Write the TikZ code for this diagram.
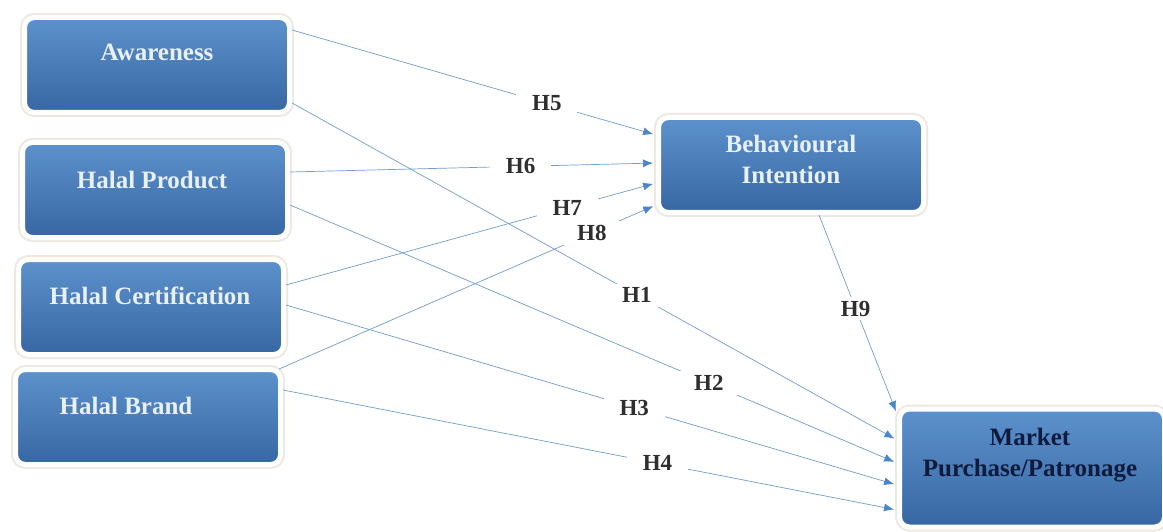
\documentclass[tikz,border=0pt]{standalone}
\usepackage{fontspec}
\setmainfont{Liberation Serif}
\usetikzlibrary{arrows.meta, calc}
\usepackage{xcolor}

\definecolor{boxblue}{HTML}{4F88C8}
\definecolor{boxdark}{HTML}{3767A3}
\definecolor{linkblue}{HTML}{6E9DCF}
\definecolor{tipblue}{HTML}{4A86C8}
\definecolor{hlabel}{HTML}{2E2E2E}
\definecolor{boxtext}{HTML}{E8F0F8}
\definecolor{navytext}{HTML}{0E1B3C}
\definecolor{glow}{HTML}{EFE8E0}

\tikzset{
  blockbox/.style={rounded corners=10pt, minimum width=265pt, minimum height=95pt,
    top color=boxblue!92!white, middle color=boxblue, bottom color=boxdark,
    draw=white, line width=5pt, preaction={draw=glow, line width=9pt}},
  blocktext/.style={font=\bfseries\fontsize{25}{31}\selectfont, text=boxtext, align=center},
  link/.style={draw=linkblue, line width=0.7pt, shorten >=3pt,
    -{Latex[length=10pt, width=8pt, color=tipblue]}},
  hyp/.style={fill=white, inner xsep=16pt, inner ysep=4pt, text=hlabel, font=\bfseries\fontsize{23}{23}\selectfont}
}

\begin{document}
\begin{tikzpicture}[x=1pt, y=-1pt]
  \useasboundingbox (0,0) rectangle (1163,532);

  % Konstrukty wejsciowe
  \node[blockbox] (aware) at (157,65) {};
  \node[blocktext] (awaretxt) at ([yshift=13pt]aware.center) {Awareness};

  \node[blockbox] (hprod) at (155,190) {};
  \node[blocktext] (hprodtxt) at ([xshift=-3pt, yshift=10pt]hprod.center) {Halal Product};

  \node[blockbox] (hcert) at (151,307) {};
  \node[blocktext] (hcerttxt) at ([xshift=-1pt, yshift=11pt]hcert.center) {Halal Certification};

  \node[blockbox] (hbrand) at (148,417) {};
  \node[blocktext] (hbrandtxt) at ([xshift=-22pt, yshift=11pt]hbrand.center) {Halal Brand};

  % Mediator i wynik
  \node[blockbox] (behav) at (791,165) {};
  \node[blocktext] (behavtxt) at ([yshift=6pt]behav.center) {Behavioural\\ Intention};

  \node[blockbox, minimum height=118pt] (market) at (1032,468) {};
  \node[blocktext, text=navytext] (markettxt) at ([xshift=-2pt, yshift=13pt]market.center) {Market\\ Purchase/Patronage};

  % Hipotezy H5--H8
  \draw[link] ([yshift=35pt]aware.east) -- node[hyp, pos=0.70] {H5} ([yshift=30pt]behav.west);
  \draw[link] ([yshift=18pt]hprod.east) -- node[hyp, pos=0.63] {H6} ([yshift=2pt]behav.west);
  \draw[link] ([yshift=22pt]hcert.east) -- node[hyp, pos=0.76] {H7} ([yshift=-18pt]behav.west);
  \draw[link] ([xshift=-4pt, yshift=-2pt]hbrand.north east) -- node[hyp, pos=0.83] {H8} ([yshift=-40pt]behav.west);

  % Hipotezy H1--H4
  \draw[link] ([yshift=-38pt]aware.east) -- node[hyp, pos=0.57] {H1} ([yshift=28pt]market.west);
  \draw[link] ([yshift=-15pt]hprod.east) -- node[hyp, pos=0.69] {H2} ([yshift=5pt]market.west);
  \draw[link] ([yshift=2pt]hcert.east) -- node[hyp, pos=0.57] {H3} ([yshift=-17pt]market.west);
  \draw[link] ([yshift=27pt]hbrand.east) -- node[hyp, pos=0.61] {H4} ([yshift=-42pt]market.west);

  % H9
  \draw[link] ([xshift=28pt]behav.south) -- node[hyp, pos=0.47] {H9} ([yshift=54pt]market.west);
\end{tikzpicture}
\end{document}
